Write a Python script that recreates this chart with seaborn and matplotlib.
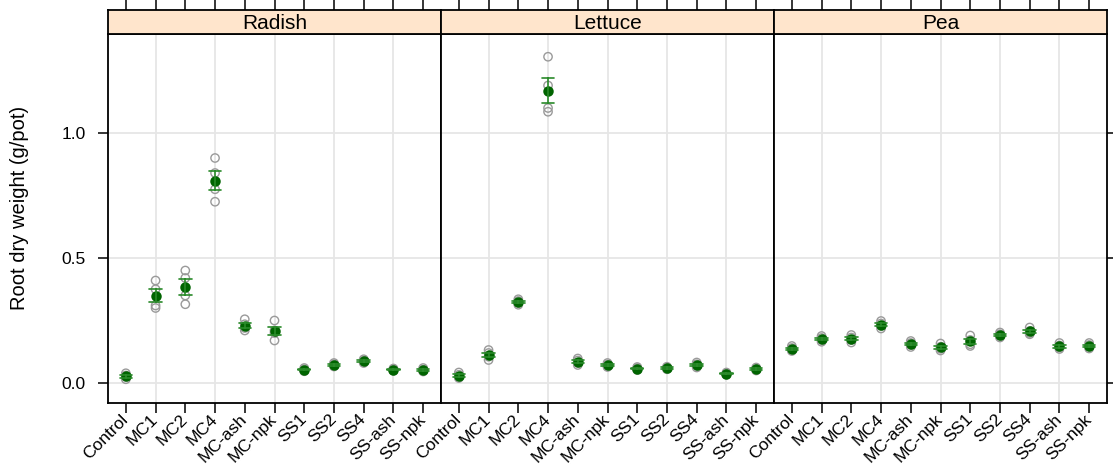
import matplotlib
matplotlib.use("Agg")
import matplotlib.pyplot as plt
import matplotlib.transforms as mtransforms
import numpy as np
import pandas as pd
import seaborn as sns

sns.set_style("white")
plt.rcParams["font.family"] = ["Liberation Sans", "DejaVu Sans"]
plt.rcParams["text.color"] = "black"
plt.rcParams["xtick.color"] = "black"
plt.rcParams["ytick.color"] = "black"
plt.rcParams["axes.labelcolor"] = "black"

treatments = ["Control", "MC1", "MC2", "MC4", "MC-ash", "MC-npk",
              "SS1", "SS2", "SS4", "SS-ash", "SS-npk"]
crops = ["Radish", "Lettuce", "Pea"]

# root dry weight (g/pot), four pots per treatment
radish = [
    [0.039, 0.030, 0.024, 0.015],
    [0.410, 0.375, 0.310, 0.300],
    [0.450, 0.420, 0.350, 0.315],
    [0.900, 0.840, 0.775, 0.725],
    [0.255, 0.235, 0.220, 0.210],
    [0.250, 0.210, 0.200, 0.170],
    [0.060, 0.055, 0.050, 0.047],
    [0.080, 0.075, 0.070, 0.066],
    [0.095, 0.090, 0.085, 0.080],
    [0.058, 0.055, 0.052, 0.049],
    [0.060, 0.054, 0.050, 0.046],
]
lettuce = [
    [0.042, 0.033, 0.025, 0.020],
    [0.132, 0.120, 0.105, 0.092],
    [0.335, 0.328, 0.320, 0.313],
    [1.305, 1.190, 1.100, 1.085],
    [0.098, 0.090, 0.080, 0.072],
    [0.080, 0.074, 0.068, 0.064],
    [0.064, 0.060, 0.056, 0.052],
    [0.065, 0.062, 0.058, 0.055],
    [0.082, 0.075, 0.068, 0.062],
    [0.042, 0.038, 0.035, 0.033],
    [0.062, 0.057, 0.053, 0.050],
]
pea = [
    [0.148, 0.140, 0.134, 0.128],
    [0.188, 0.180, 0.172, 0.165],
    [0.192, 0.182, 0.172, 0.162],
    [0.248, 0.238, 0.228, 0.218],
    [0.168, 0.160, 0.152, 0.144],
    [0.158, 0.145, 0.137, 0.130],
    [0.190, 0.172, 0.155, 0.148],
    [0.202, 0.195, 0.188, 0.182],
    [0.222, 0.208, 0.200, 0.195],
    [0.160, 0.150, 0.142, 0.136],
    [0.160, 0.152, 0.145, 0.138],
]
y_ticks = [0.0, 0.5, 1.0]
y_tick_labels = ["0.0", "0.5", "1.0"]

rows = []
for crop, reps in zip(crops, [radish, lettuce, pea]):
    for trt, vals in zip(treatments, reps):
        for v in vals:
            rows.append({"crop": crop, "treatment": trt, "weight": v})
df = pd.DataFrame(rows)

W, H = 1113, 467
fig = plt.figure(figsize=(W / 100, H / 100), dpi=100)

left_px, right_px = 108, 1107
top_px, bottom_px = 34, 403
strip_h = 24
pw = (right_px - left_px) / 3
n = len(treatments)
xlim = (-0.6, n - 0.4)
ylim = (-0.08, 1.396)
grid_c = "#e6e6e6"
frame_lw = 1.3
label_shift = mtransforms.ScaledTranslation(4 / 72, -3 / 72, fig.dpi_scale_trans)

for i, crop in enumerate(crops):
    x0 = (left_px + i * pw) / W
    ax = fig.add_axes([x0, 1 - bottom_px / H, pw / W, (bottom_px - top_px) / H])
    sub = df[df["crop"] == crop]

    for gx in range(1, n, 2):
        ax.axvline(gx, color=grid_c, lw=1.3, zorder=0)
    for gy in y_ticks:
        ax.axhline(gy, color=grid_c, lw=1.3, zorder=0)

    sns.stripplot(data=sub, x="treatment", y="weight", order=treatments,
                  jitter=False, size=6, color="#9a9a9a", linewidth=1.0,
                  ax=ax, zorder=2)
    for coll in ax.collections:
        coll.set_facecolor("none")
        coll.set_edgecolor("#9a9a9a")

    sns.pointplot(data=sub, x="treatment", y="weight", order=treatments,
                  errorbar="se", linestyle="none", color="#006400",
                  markers="o", markersize=5.5, capsize=0.42,
                  err_kws={"color": "#2a8a2a", "linewidth": 1.2},
                  ax=ax, zorder=3)

    ax.set_xlim(*xlim)
    ax.set_ylim(*ylim)
    ax.set_xlabel("")
    ax.set_ylabel("")
    for s in ax.spines.values():
        s.set_visible(True)
        s.set_color("black")
        s.set_linewidth(frame_lw)

    ax.set_xticks(range(n))
    ax.set_xticklabels(treatments, rotation=45, ha="right", va="center",
                       rotation_mode="anchor", fontsize=12.5)
    for lab in ax.get_xticklabels():
        lab.set_transform(lab.get_transform() + label_shift)
    ax.tick_params(axis="x", direction="out", length=7, width=1.1,
                   color="black", pad=3, bottom=True)
    ax.set_yticks(y_ticks)
    if i == 0:
        ax.set_yticklabels(y_tick_labels, fontsize=12.5)
        ax.tick_params(axis="y", direction="out", length=7, width=1.1,
                       left=True, right=False, pad=9)
    elif i == 2:
        ax.yaxis.tick_right()
        ax.set_yticklabels([])
        ax.tick_params(axis="y", direction="out", length=7, width=1.1,
                       left=False, right=True)
    else:
        ax.tick_params(axis="y", left=False, right=False, labelleft=False)

    # strip header with top tick marks
    sax = fig.add_axes([x0, 1 - top_px / H, pw / W, strip_h / H])
    sax.set_facecolor("#ffe5cc")
    sax.set_xlim(*xlim)
    sax.set_ylim(0, 1)
    sax.set_xticks(range(n))
    sax.xaxis.tick_top()
    sax.tick_params(axis="x", direction="out", length=7, width=1.1,
                    labeltop=False, labelbottom=False)
    sax.set_yticks([])
    for s in sax.spines.values():
        s.set_visible(True)
        s.set_color("black")
        s.set_linewidth(frame_lw)
    sax.text(0.5, 0.45, crop, transform=sax.transAxes, ha="center",
             va="center", fontsize=15)

fig.text(20 / W, 1 - 208 / H, "Root dry weight (g/pot)", rotation=90,
         ha="center", va="center", fontsize=14.5)

fig.savefig("out.png", dpi=100)
